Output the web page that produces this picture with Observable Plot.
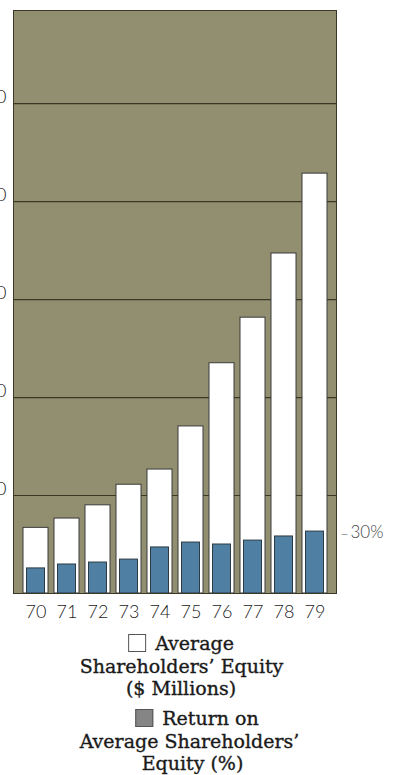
<!DOCTYPE html>
<html>
<head>
<meta charset="utf-8">
<script src="https://cdn.jsdelivr.net/npm/d3@7"></script>
<script src="https://cdn.jsdelivr.net/npm/@observablehq/plot@0.6"></script>
<style>
  html, body { margin: 0; padding: 0; background: #fff; }
  #chart { width: 394px; }
  #legend {
    position: relative;
    width: 394px;
    margin-top: 7px;
    font-family: "DejaVu Serif", serif;
    font-size: 19px;
    line-height: 22.5px;
    color: #1a1a1a;
    -webkit-text-stroke: 0.35px #1a1a1a;
  }
  .line {
    position: relative;
    width: max-content;
    white-space: nowrap;
    transform: translateX(-50%);
  }
  .gap { margin-top: 7.5px; }
  .swatch {
    display: inline-block;
    width: 18px;
    height: 18px;
    box-sizing: border-box;
    vertical-align: -2px;
    margin-right: 9px;
  }
  .sw-equity { background: #fff; border: 1.5px solid #555; }
  .sw-return { background: #858585; border: 1.5px solid #555; }
</style>
</head>
<body>
<div id="chart"></div>
<div id="legend">
  <div class="line" style="left:181px"><span class="swatch sw-equity"></span>Average</div>
  <div class="line" style="left:181.5px">Shareholders’ Equity</div>
  <div class="line" style="left:181px">($ Millions)</div>
  <div class="line gap" style="left:197px"><span class="swatch sw-return"></span>Return on</div>
  <div class="line" style="left:189.5px">Average Shareholders’</div>
  <div class="line" style="left:192.5px">Equity (%)</div>
</div>
<script>
// Fiscal years 1970–1979
const years = ["70", "71", "72", "73", "74", "75", "76", "77", "78", "79"];
// Average shareholders' equity, $ millions
const equity = [67, 76.5, 90, 111, 126.5, 170.5, 235, 281.5, 347, 428.5];
// Return on average shareholders' equity, %
const returnPct = [12.8, 14.8, 15.8, 17.3, 23.5, 26.0, 25.0, 27.0, 29.1, 31.6];
// Left-axis gridline values ($ millions) and the marked return level (%)
const equityTicks = [100, 200, 300, 400, 500];
const returnTicks = [30];

// Return bars share the equity axis: 2 axis units per percentage point
const returnScale = 2;

const rows = years.map((year, i) => ({year, equity: equity[i], ret: returnPct[i]}));

const panel = "#928f70";
const ink = "#3b3826";

const chart = Plot.plot({
  width: 394,
  height: 625,
  marginTop: 10,
  marginBottom: 32,
  marginLeft: 13,
  marginRight: 58,
  style: {fontFamily: "Lato, 'Open Sans', sans-serif", fontSize: "18px", fontWeight: 300, color: "#222", background: "transparent"},
  x: {domain: years, paddingInner: 0.2, paddingOuter: 0.254},
  y: {domain: [0, 595], axis: null},
  marks: [
    Plot.frame({fill: panel}),
    Plot.ruleY(equityTicks, {stroke: ink, strokeWidth: 1.2}),
    Plot.barY(rows, {x: "year", y: "equity", fill: "#fff", stroke: "#3a3a3a", strokeWidth: 1}),
    Plot.barY(rows, {x: "year", y: d => d.ret * returnScale, fill: "#4f80a3", stroke: "#2c3a44", strokeWidth: 1, insetLeft: 3.5, insetRight: 3.5}),
    Plot.frame({stroke: ink, strokeWidth: 1}),
    Plot.axisX({tickSize: 0, tickPadding: 12, fontSize: 18, label: null}),
    // left scale labels, trimmed by the page edge
    Plot.text(equityTicks, {y: d => d, frameAnchor: "left", dx: -7, textAnchor: "end", lineAnchor: "bottom", dy: -1, text: d => String(d), fontSize: 18}),
    // right-hand return marker
    Plot.text(returnTicks, {y: d => d * returnScale, frameAnchor: "right", dx: 4, textAnchor: "start", lineAnchor: "middle", text: () => "–", fontSize: 14, fill: "#444"}),
    Plot.text(returnTicks, {y: d => d * returnScale, frameAnchor: "right", dx: 14, dy: -2, textAnchor: "start", lineAnchor: "middle", text: d => `${d}%`, fontSize: 17, fill: "#444"})
  ]
});

document.getElementById("chart").appendChild(chart);
</script>
</body>
</html>
